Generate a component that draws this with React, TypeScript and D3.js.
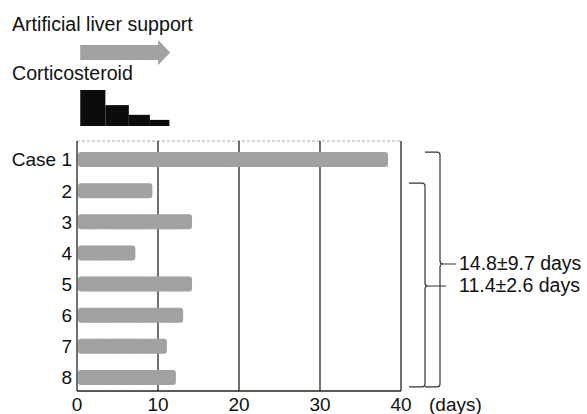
import React from "react";
import * as d3 from "d3";

// ---- data ----
const cases = ["Case 1", "2", "3", "4", "5", "6", "7", "8"];
const durations = [38.4, 9.3, 14.2, 7.2, 14.2, 13.1, 11.1, 12.2]; // days of artificial liver support
const xTicks = [0, 10, 20, 30, 40];

// legend glyphs (drawn on the same day scale)
const alsArrow = [0.4, 11.5];
const steroidStart = [0.4, 3.5, 6.4, 9.0];
const steroidEnd = [3.5, 6.4, 9.0, 11.4];
const steroidDose = [100, 58, 31, 17]; // relative dose

// summary brackets: first case included, label
const groupFirst = [0, 1];
const groupLabels = ["14.8\u00b19.7 days", "11.4\u00b12.6 days"];

const width = 587;
const height = 414;
const font = "'Liberation Sans', Arial, Helvetica, sans-serif";
const ink = "#222";
const barFill = "#a0a0a0";

export default function App() {
  const plot = { left: 77, right: 401, top: 141, bottom: 391 };

  const x = d3.scaleLinear().domain([0, 40]).range([plot.left, plot.right]);
  const y = d3.scaleBand().domain(cases).range([144, 393]).paddingInner(0.52).paddingOuter(0.26);
  const dose = d3.scaleLinear().domain([0, 100]).range([0, 36]);

  const steroidBase = 126;
  const arrowY = 52.5;

  // brace path helper
  const brace = (x0: number, xv: number, top: number, bottom: number, tip: number, tipEnd: number) => {
    const r = 3;
    return [
      `M${x0},${top} L${xv - r},${top} Q${xv},${top} ${xv},${top + r}`,
      `L${xv},${tip - r} Q${xv},${tip} ${xv + r},${tip} L${tipEnd},${tip}`,
      `M${xv + r},${tip} Q${xv},${tip} ${xv},${tip + r}`,
      `L${xv},${bottom - r} Q${xv},${bottom} ${xv - r},${bottom} L${x0},${bottom}`,
    ].join(" ");
  };

  const last = cases[cases.length - 1];
  const braceBottom = (y(last) as number) + y.bandwidth() + 2;
  const braceGeom = [
    { x0: 425, xv: 440, tipEnd: 456, tip: 264, baseline: 270 },
    { x0: 409, xv: 425, tipEnd: 446, tip: 286, baseline: 292 },
  ];

  const ax0 = x(alsArrow[0]);
  const ax1 = x(alsArrow[1]);

  return (
    <svg
      width={width}
      height={height}
      style={{ position: "absolute", left: 0, top: 0, background: "#fff" }}
      fontFamily={font}
    >
      <defs>
        <filter id="grain" x="0" y="0" width="100%" height="100%">
          <feTurbulence type="fractalNoise" baseFrequency="0.9" numOctaves="2" seed="3" result="n" />
          <feColorMatrix
            in="n"
            type="matrix"
            values="0 0 0 0 0.4  0 0 0 0 0.4  0 0 0 0 0.4  0 0 0 1 -0.3"
            result="g"
          />
          <feComposite in="g" in2="SourceGraphic" operator="in" result="gi" />
          <feMerge>
            <feMergeNode in="SourceGraphic" />
            <feMergeNode in="gi" />
          </feMerge>
        </filter>
      </defs>

      {/* legend */}
      <text x={12} y={31} fontSize={19.6} fill="#111">Artificial liver support</text>
      <path
        d={`M${ax0},${arrowY - 7.5} L${ax1 - 12},${arrowY - 7.5} L${ax1 - 12},${arrowY - 12.5}
           L${ax1},${arrowY} L${ax1 - 12},${arrowY + 12.5} L${ax1 - 12},${arrowY + 7.5}
           L${ax0},${arrowY + 7.5} Z`}
        fill={barFill}
        filter="url(#grain)"
      />
      <text x={12} y={80} fontSize={19.6} fill="#111">Corticosteroid</text>
      {steroidDose.map((d, i) => (
        <rect
          key={i}
          x={x(steroidStart[i])}
          y={steroidBase - dose(d)}
          width={x(steroidEnd[i]) - x(steroidStart[i])}
          height={dose(d)}
          fill="#0c0c0c"
        />
      ))}

      {/* frame and grid */}
      <line x1={plot.left} x2={plot.right} y1={plot.top} y2={plot.top} stroke="#aaa" strokeDasharray="3,2" />
      {xTicks.map((t) => (
        <line key={t} x1={x(t)} x2={x(t)} y1={plot.top} y2={plot.bottom} stroke={ink} strokeWidth={1.3} />
      ))}
      <line x1={plot.left} x2={plot.right} y1={plot.bottom} y2={plot.bottom} stroke={ink} strokeWidth={1.3} />

      {/* bars */}
      {durations.map((d, i) => (
        <rect
          key={cases[i]}
          x={x(0) + 1}
          y={y(cases[i])}
          width={x(d) - x(0) - 1}
          height={y.bandwidth()}
          rx={3}
          fill={barFill}
          filter="url(#grain)"
        />
      ))}

      {/* case labels */}
      {cases.map((c) => (
        <text
          key={c}
          x={72}
          y={(y(c) as number) + y.bandwidth() / 2}
          dy="0.36em"
          textAnchor="end"
          fontSize={19}
          fill="#111"
        >
          {c}
        </text>
      ))}

      {/* x tick labels */}
      {xTicks.map((t) => (
        <text key={t} x={x(t)} y={411} textAnchor="middle" fontSize={19} fill="#111">
          {t}
        </text>
      ))}
      <text x={429} y={411} fontSize={19} fill="#111">(days)</text>

      {/* summary braces */}
      {groupFirst.map((g, i) => {
        const b = braceGeom[i];
        const top = y(cases[g]) as number;
        return (
          <g key={i}>
            <path
              d={brace(b.x0, b.xv, top, braceBottom, b.tip, b.tipEnd)}
              fill="none"
              stroke="#333"
              strokeWidth={1.2}
            />
            <text x={459} y={b.baseline} fontSize={19.5} fill="#111">
              {groupLabels[i]}
            </text>
          </g>
        );
      })}
    </svg>
  );
}
